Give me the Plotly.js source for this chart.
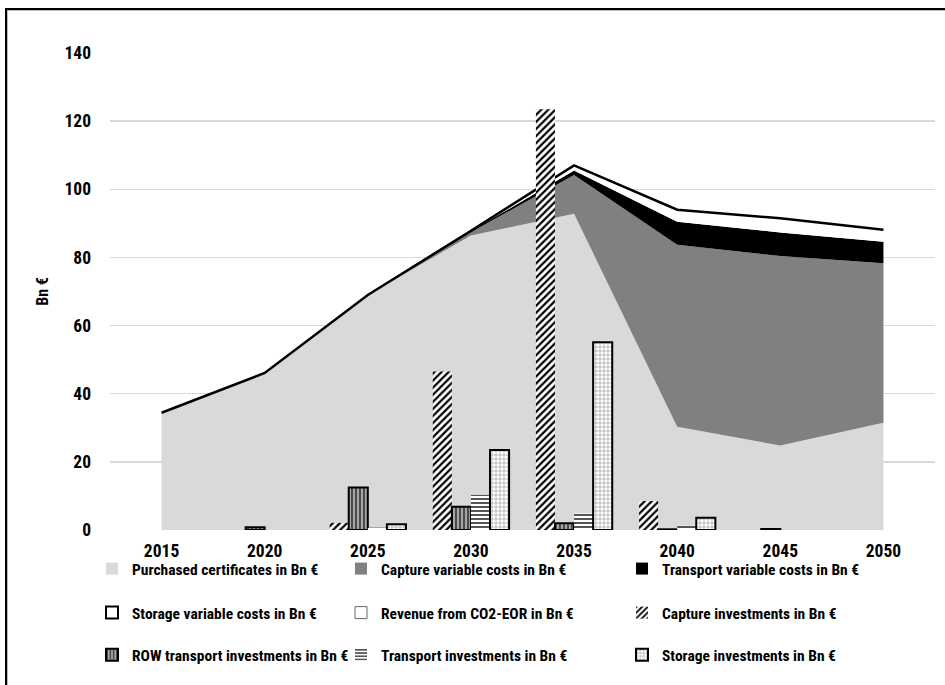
<!DOCTYPE html>
<html><head><meta charset="utf-8">
<script src="https://cdn.plot.ly/plotly-3.0.1.min.js"></script>
<style>
html,body{margin:0;padding:0;background:#fff;}
#wrap{position:relative;width:945px;height:685px;}
#chart{position:absolute;left:0;top:0;width:945px;height:685px;}
#frame{position:absolute;left:5px;top:8px;width:945px;height:690px;border-left:2px solid #000;border-top:2px solid #000;pointer-events:none;box-shadow:inset 1px 1px 0 #bbb;}
</style></head>
<body><div id="wrap"><div id="chart"></div><div id="frame"></div></div>
<script>
const years = ['2015','2020','2025','2030','2035','2040','2045','2050'];
// stacked area series (Bn €)
const purchased    = [34.4, 46.1, 69.0, 86.4, 92.8, 30.3, 24.8, 31.5];
const captureVar   = [0, 0, 0, 1.0, 11.4, 53.4, 55.6, 46.8];
const transportVar = [0, 0, 0, 0.3, 1.3, 6.8, 6.9, 6.3];
const storageVar   = [0, 0, 0, 0.1, 1.5, 3.5, 4.2, 3.5];
const revenueEOR   = [0, 0, 0, 0, 0, 0, 0, 0];
// investment bars (Bn €)
const captureInv   = [0, 0, 2.1, 46.5, 123.5, 8.5, 0, 0];
const rowInv       = [0, 0.8, 12.5, 6.8, 2.0, 0.2, 0.3, 0];
const transportInv = [0, 0, 0.7, 10.3, 4.9, 1.3, 0, 0];
const storageInv   = [0, 0, 1.7, 23.5, 55.1, 3.6, 0, 0];

const names = {
  purchased: 'Purchased certificates in Bn €',
  captureVar: 'Capture variable costs in Bn €',
  transportVar: 'Transport variable costs in Bn €',
  storageVar: 'Storage variable costs in Bn €',
  revenue: 'Revenue from CO2-EOR in Bn €',
  captureInv: 'Capture investments in Bn €',
  rowInv: 'ROW transport investments in Bn €',
  transportInv: 'Transport investments in Bn €',
  storageInv: 'Storage investments in Bn €'
};

const FONT = 'Liberation Sans Narrow, Roboto Condensed, Arial Narrow, Open Sans, sans-serif';

function area(y, name, fill, lw, lc) {
  return {type:'scatter', x:years, y:y, name:name, stackgroup:'a', mode:'lines',
    fillcolor:fill, line:{width:lw, color:lc||fill, shape:'linear'}, showlegend:false, zorder:0, hoverinfo:'skip'};
}
function bar(y, name, marker, leg) {
  // a zero value means no bar is drawn for that year
  return {type:'bar', x:years, y:y.map(v => v === 0 ? null : v), name:name, marker:marker, legend:leg, zorder:1};
}
function dummy(name, marker, leg) {
  return {type:'bar', x:[null], y:[null], name:name, marker:marker, legend:leg, xaxis:'x2', yaxis:'y2'};
}

const mCaptureInv = {color:'#ffffff', line:{width:0}, pattern:{shape:'/', fgcolor:'#000', bgcolor:'#ffffff', size:5, solidity:0.45}};
const mRow = {color:'#9a9a9a', line:{width:2, color:'#000'}, pattern:{shape:'|', fgcolor:'#333', bgcolor:'#a6a6a6', size:4, solidity:0.4}};
const mTransInv = {color:'#ffffff', line:{width:0}, pattern:{shape:'-', fgcolor:'#555', bgcolor:'#ffffff', size:4, solidity:0.5}};
const mStorInv = {color:'#ffffff', line:{width:2, color:'#000'}, pattern:{shape:'+', fgcolor:'#999', bgcolor:'#ffffff', size:4, solidity:0.3}};

const data = [
  area(purchased, names.purchased, '#d9d9d9', 0),
  area(captureVar, names.captureVar, '#808080', 0),
  area(transportVar, names.transportVar, '#000000', 0),
  area(storageVar, names.storageVar, '#ffffff', 2.5, '#000000'),
  area(revenueEOR, names.revenue, 'rgba(255,255,255,0)', 0),
  dummy(names.purchased, {color:'#d9d9d9'}, 'legend'),
  dummy(names.captureVar, {color:'#808080'}, 'legend2'),
  dummy(names.transportVar, {color:'#000'}, 'legend3'),
  dummy(names.storageVar, {color:'#fff', line:{width:2, color:'#000'}}, 'legend4'),
  dummy(names.revenue, {color:'#fff', line:{width:1, color:'#666'}}, 'legend5'),
  bar(captureInv, names.captureInv, mCaptureInv, 'legend6'),
  bar(rowInv, names.rowInv, mRow, 'legend7'),
  bar(transportInv, names.transportInv, mTransInv, 'legend8'),
  bar(storageInv, names.storageInv, mStorInv, 'legend9')
];

const L = 110, R = 935, T = 53.3, B = 530;
const W = R - L, H = B - T;
const colPx = [92, 341, 622];
const rowPx = [552, 596, 638];
function leg(c, r) {
  return {orientation:'h', x:(colPx[c]-L)/W, xanchor:'left', y:(B-rowPx[r])/H, yanchor:'top',
    font:{family:FONT, size:15.5, color:'#000', weight:'bold'}, bgcolor:'rgba(0,0,0,0)', borderwidth:0};
}

const layout = {
  width:945, height:685,
  margin:{l:L, r:945-R, t:T, b:685-B, autoexpand:false},
  paper_bgcolor:'#fff', plot_bgcolor:'#fff',
  barmode:'group', bargap:0.26, bargroupgap:0,
  font:{family:FONT, color:'#000'},
  xaxis:{type:'category', range:[-0.5, 7.5], showgrid:false, showline:true, linecolor:'#d9d9d9', linewidth:1.5,
    ticks:'', tickfont:{family:FONT, size:17.5, color:'#000', weight:'bold'}, ticklabelstandoff:4, fixedrange:true},
  yaxis:{range:[0,140], dtick:20, showgrid:true, gridcolor:'#d9d9d9', gridwidth:1.5, showline:true, linecolor:'#d9d9d9', linewidth:1.5,
    zeroline:false, ticks:'', tickfont:{family:FONT, size:17.5, color:'#000', weight:'bold'}, ticklabelstandoff:14,
    title:{text:'Bn €', font:{family:FONT, size:16, color:'#000', weight:'bold'}, standoff:12}},
  xaxis2:{overlaying:'x', visible:false, type:'category'},
  yaxis2:{overlaying:'y', visible:false},
  legend:leg(0,0), legend2:leg(1,0), legend3:leg(2,0),
  legend4:leg(0,1), legend5:leg(1,1), legend6:leg(2,1),
  legend7:leg(0,2), legend8:leg(1,2), legend9:leg(2,2),
  showlegend:true
};

Plotly.newPlot('chart', data, layout, {displayModeBar:false, staticPlot:true});
</script>
</body></html>
